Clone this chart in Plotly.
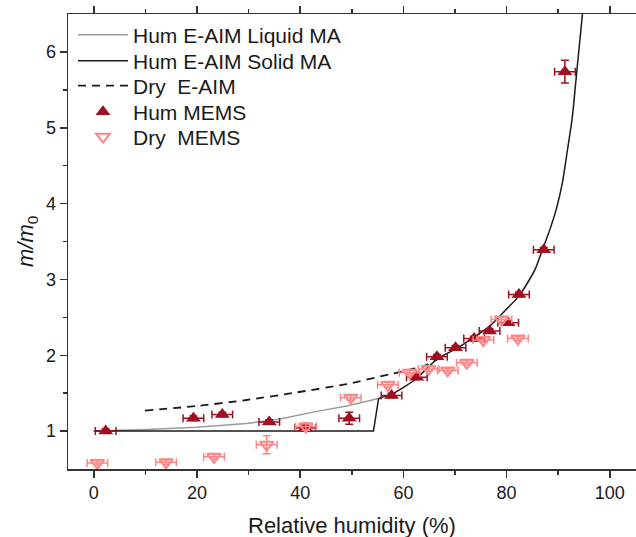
import plotly.graph_objects as go

# Hum MEMS (filled up-triangles)
hum_x = [2.3, 19.3, 24.9, 34.0, 41.0, 49.5, 57.7, 62.6, 66.5, 70.1, 73.7, 76.7, 80.3, 82.4, 87.2, 91.3]
hum_y = [1.00, 1.17, 1.22, 1.12, 1.04, 1.17, 1.47, 1.71, 1.98, 2.10, 2.22, 2.32, 2.43, 2.80, 3.39, 5.74]
hum_xerr = [2.0] * 16
hum_yerr = [0.03, 0.03, 0.03, 0.03, 0.04, 0.08, 0.03, 0.03, 0.03, 0.03, 0.03, 0.03, 0.03, 0.03, 0.03, 0.15]

# Dry MEMS (open down-triangles)
dry_x = [0.7, 14.0, 23.3, 33.5, 41.1, 49.8, 57.0, 61.2, 64.9, 68.6, 72.3, 75.5, 79.0, 82.2]
dry_y = [0.58, 0.59, 0.66, 0.82, 1.06, 1.44, 1.61, 1.77, 1.82, 1.80, 1.90, 2.20, 2.47, 2.22]
dry_xerr = [2.0] * 14
dry_yerr = [0.03, 0.03, 0.03, 0.12, 0.05, 0.03, 0.03, 0.03, 0.03, 0.03, 0.03, 0.03, 0.03, 0.03]

# Hum E-AIM Liquid MA (grey)
liq_x = [0, 10.2, 19.9, 29.6, 36.1, 42.5, 49.0, 55.2]
liq_y = [1.00, 1.02, 1.05, 1.10, 1.16, 1.25, 1.33, 1.43]

# Hum E-AIM Solid MA (black): flat part + jump, then growth curve
sol_flat_x = [0, 54.2, 55.2]
sol_flat_y = [1.00, 1.00, 1.43]
sol_x = [55.2, 57.8, 62.3, 66.5, 70.1, 73.5, 76.5, 79.3, 82.6, 85.5, 87.1, 88.4, 89.6, 90.8, 91.8, 92.7, 93.7, 94.7]
sol_y = [1.43, 1.49, 1.68, 1.95, 2.08, 2.23, 2.37, 2.56, 2.80, 3.13, 3.42, 3.66, 3.92, 4.27, 4.71, 5.12, 5.81, 6.50]

# Dry E-AIM (dashed)
dry_aim_x = [9.9, 19.9, 29.6, 39.3, 49.0, 57.4, 60.0, 64.0, 67.0]
dry_aim_y = [1.27, 1.33, 1.41, 1.51, 1.62, 1.75, 1.79, 1.86, 1.96]

x_ticks = [0, 20, 40, 60, 80, 100]
y_ticks = [1, 2, 3, 4, 5, 6]

HUM = "#9E1020"
DRY = "#FF8585"
FONT = "Arial, Liberation Sans, sans-serif"

# figure geometry (pixels); plot area runs past the right edge of the window
W, H = 650, 537
ML, MR, MT, MB = 68, 0, 14, 68
PW, PH = W - ML - MR, H - MT - MB
X_MIN = -5
X_MAX = X_MIN + PW / 5.16

def px_x(p):
    return (p - ML) / PW

def px_y(p):
    return 1 - (p - MT) / PH

fig = go.Figure()
fig.add_trace(go.Scatter(x=liq_x, y=liq_y, mode="lines", name="Hum E-AIM Liquid MA",
                         line=dict(color="#9a9a9a", width=1.5), legend="legend"))
fig.add_trace(go.Scatter(x=sol_flat_x, y=sol_flat_y, mode="lines", name="Hum E-AIM Solid MA",
                         line=dict(color="#1a1a1a", width=1.5), legend="legend2"))
fig.add_trace(go.Scatter(x=sol_x, y=sol_y, mode="lines", name="Hum E-AIM Solid MA", showlegend=False,
                         line=dict(color="#1a1a1a", width=1.5, shape="spline", smoothing=0.6)))
fig.add_trace(go.Scatter(x=dry_aim_x, y=dry_aim_y, mode="lines", name="Dry  E-AIM",
                         line=dict(color="#1a1a1a", width=1.8, dash="8px,6px", shape="spline", smoothing=0.6),
                         legend="legend3"))
fig.add_trace(go.Scatter(x=hum_x, y=hum_y, mode="markers", name="Hum MEMS",
                         marker=dict(symbol="triangle-up", size=13, color=HUM),
                         error_x=dict(type="data", array=hum_xerr, color=HUM, thickness=1.5, width=4),
                         error_y=dict(type="data", array=hum_yerr, color=HUM, thickness=1.5, width=4),
                         legend="legend4"))
fig.add_trace(go.Scatter(x=dry_x, y=dry_y, mode="markers", name="Dry  MEMS",
                         marker=dict(symbol="triangle-down-open", size=12, color=DRY, line=dict(width=2, color=DRY)),
                         error_x=dict(type="data", array=dry_xerr, color=DRY, thickness=1.5, width=4),
                         error_y=dict(type="data", array=dry_yerr, color=DRY, thickness=1.5, width=4),
                         legend="legend5"))

axis_common = dict(showline=True, linecolor="#333333", linewidth=1.5, ticks="outside",
                   tickcolor="#333333", tickwidth=1.5, ticklen=7, showgrid=False, zeroline=False,
                   automargin=False,
                   tickfont=dict(family=FONT, size=18, color="#1a1a1a"))

legend_rows = [35, 61, 86, 112, 137]
legends = {}
for i, row in enumerate(legend_rows):
    key = "legend" if i == 0 else f"legend{i + 1}"
    legends[key] = dict(x=px_x(73), y=px_y(row), xanchor="left", yanchor="middle",
                        bgcolor="rgba(0,0,0,0)", borderwidth=0,
                        font=dict(family=FONT, size=21, color="#1a1a1a"), itemwidth=50)

fig.update_layout(
    width=W, height=H,
    margin=dict(l=ML, r=MR, t=MT, b=MB),
    paper_bgcolor="white", plot_bgcolor="white",
    font=dict(family=FONT, color="#1a1a1a"),
    xaxis=dict(range=[X_MIN, X_MAX], tickvals=x_ticks, ticktext=[str(v) for v in x_ticks],
               mirror="allticks",
               minor=dict(tickvals=[10, 30, 50, 70, 90], ticks="outside", ticklen=4, tickwidth=1.5, tickcolor="#333333"),
               **axis_common),
    yaxis=dict(range=[0.5, 6.5], tickvals=y_ticks, ticktext=[str(v) for v in y_ticks],
               mirror=False,
               minor=dict(tickvals=[1.5, 2.5, 3.5, 4.5, 5.5], ticks="outside", ticklen=4, tickwidth=1.5, tickcolor="#333333"),
               **axis_common),
    annotations=[
        dict(text="Relative humidity (%)", xref="paper", yref="paper", x=px_x(352), y=px_y(525),
             xanchor="center", yanchor="middle", showarrow=False,
             font=dict(family=FONT, size=22, color="#1a1a1a")),
        dict(text="<i>m/m</i><sub>0</sub>", xref="paper", yref="paper", x=px_x(27), y=px_y(242),
             xanchor="center", yanchor="middle", textangle=-90, showarrow=False,
             font=dict(family=FONT, size=22, color="#1a1a1a")),
    ],
    showlegend=True,
    hovermode=False,
    **legends,
)

fig.write_html("out.html", config={"displayModeBar": False, "staticPlot": True},
               post_script="document.body.style.margin='0';document.body.style.overflow='hidden';")
